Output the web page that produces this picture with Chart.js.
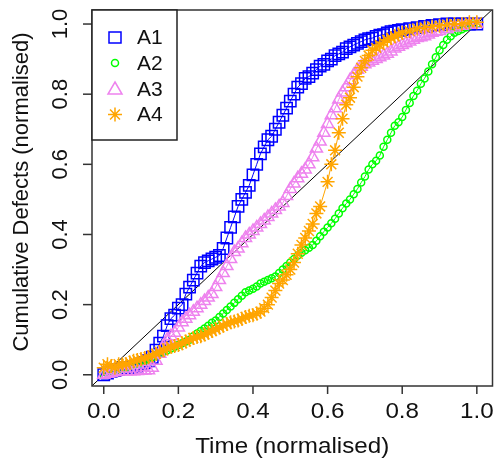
<!DOCTYPE html>
<html>
<head>
<meta charset="utf-8">
<script src="https://cdn.jsdelivr.net/npm/chart.js@4.4.1/dist/chart.umd.min.js"></script>
<style>
html, body { margin: 0; padding: 0; background: #fff; }
canvas { display: block; }
</style>
</head>
<body>
<canvas id="defects" width="502" height="460"></canvas>
<script>
// series names + colours (R style)
var seriesNames = ["A1", "A2", "A3", "A4"];
var seriesColors = ["#0000ff", "#00ff00", "#ee82ee", "#ffa500"];

// A1 - blue squares
var a1X = [0.00,0.01,0.02,0.03,0.04,0.05,0.06,0.07,0.08,0.09,0.10,0.11,0.12,0.13,0.14,0.15,0.16,0.17,0.18,0.19,0.20,0.21,0.22,0.23,0.24,0.25,0.26,0.27,0.28,0.29,0.30,0.31,0.32,0.33,0.34,0.35,0.36,0.37,0.38,0.39,0.40,0.41,0.42,0.43,0.44,0.45,0.46,0.47,0.48,0.49,0.50,0.51,0.52,0.53,0.54,0.55,0.56,0.57,0.58,0.59,0.60,0.61,0.62,0.63,0.64,0.65,0.66,0.67,0.68,0.69,0.70,0.71,0.72,0.73,0.74,0.75,0.76,0.77,0.78,0.79,0.80,0.82,0.84,0.86,0.88,0.90,0.92,0.94,0.96,0.98,1.00];
var a1Y = [0.00,0.005,0.01,0.012,0.015,0.018,0.02,0.02,0.022,0.025,0.03,0.035,0.04,0.05,0.07,0.09,0.11,0.14,0.16,0.17,0.19,0.20,0.23,0.25,0.27,0.29,0.31,0.32,0.325,0.33,0.335,0.34,0.36,0.39,0.42,0.45,0.48,0.50,0.52,0.54,0.57,0.60,0.63,0.65,0.67,0.68,0.70,0.72,0.74,0.76,0.78,0.80,0.82,0.83,0.845,0.85,0.86,0.87,0.88,0.885,0.895,0.90,0.91,0.915,0.92,0.93,0.935,0.94,0.945,0.95,0.955,0.958,0.96,0.965,0.968,0.97,0.975,0.978,0.98,0.982,0.984,0.987,0.99,0.993,0.996,0.998,1.00,1.00,1.00,1.00,1.00];

// A2 - green circles
var a2X = [0.00,0.01,0.02,0.03,0.04,0.05,0.06,0.07,0.08,0.09,0.10,0.11,0.12,0.13,0.14,0.15,0.16,0.17,0.18,0.19,0.20,0.21,0.22,0.23,0.24,0.25,0.26,0.27,0.28,0.29,0.30,0.31,0.32,0.33,0.34,0.35,0.36,0.37,0.38,0.39,0.40,0.41,0.42,0.43,0.44,0.45,0.46,0.47,0.48,0.49,0.50,0.51,0.52,0.53,0.54,0.55,0.56,0.57,0.58,0.59,0.60,0.61,0.62,0.63,0.64,0.65,0.66,0.67,0.68,0.69,0.70,0.71,0.72,0.73,0.74,0.75,0.76,0.77,0.78,0.79,0.80,0.81,0.82,0.83,0.84,0.85,0.86,0.87,0.88,0.89,0.90,0.91,0.92,0.93,0.94,0.95,0.96,0.97,0.98,0.99,1.00];
var a2Y = [0.00,0.005,0.01,0.012,0.015,0.018,0.02,0.025,0.03,0.032,0.035,0.04,0.045,0.05,0.055,0.06,0.065,0.07,0.075,0.08,0.085,0.09,0.095,0.10,0.11,0.118,0.125,0.132,0.14,0.148,0.155,0.165,0.175,0.185,0.195,0.205,0.215,0.225,0.235,0.24,0.245,0.252,0.26,0.265,0.27,0.275,0.28,0.29,0.30,0.31,0.32,0.33,0.34,0.348,0.355,0.362,0.37,0.382,0.395,0.408,0.42,0.432,0.445,0.46,0.475,0.488,0.50,0.515,0.53,0.548,0.565,0.585,0.60,0.61,0.625,0.65,0.67,0.69,0.71,0.72,0.735,0.755,0.775,0.795,0.81,0.83,0.845,0.865,0.885,0.905,0.925,0.94,0.955,0.965,0.975,0.98,0.985,0.99,0.995,0.998,1.00];

// A3 - violet triangles
var a3X = [0.00,0.01,0.02,0.03,0.04,0.05,0.06,0.07,0.08,0.09,0.10,0.11,0.12,0.13,0.14,0.15,0.16,0.17,0.18,0.19,0.20,0.21,0.22,0.23,0.24,0.25,0.26,0.27,0.28,0.29,0.30,0.31,0.32,0.33,0.34,0.35,0.36,0.37,0.38,0.39,0.40,0.41,0.42,0.43,0.44,0.45,0.46,0.47,0.48,0.49,0.50,0.51,0.52,0.53,0.54,0.55,0.56,0.57,0.58,0.59,0.60,0.61,0.62,0.63,0.64,0.65,0.66,0.67,0.68,0.69,0.70,0.71,0.72,0.73,0.74,0.75,0.76,0.77,0.78,0.79,0.80,0.81,0.82,0.83,0.84,0.85,0.86,0.87,0.88,0.89,0.90,0.92,0.94,0.96,0.98,1.00];
var a3Y = [0.00,0.003,0.005,0.007,0.01,0.01,0.01,0.01,0.01,0.011,0.012,0.012,0.013,0.02,0.04,0.06,0.08,0.10,0.11,0.12,0.135,0.15,0.16,0.17,0.18,0.19,0.20,0.21,0.22,0.23,0.25,0.27,0.29,0.31,0.33,0.35,0.36,0.375,0.39,0.40,0.41,0.42,0.43,0.44,0.45,0.46,0.47,0.48,0.49,0.51,0.53,0.545,0.56,0.573,0.585,0.60,0.62,0.645,0.665,0.69,0.715,0.74,0.76,0.785,0.805,0.82,0.84,0.855,0.87,0.878,0.885,0.89,0.895,0.90,0.905,0.91,0.915,0.922,0.93,0.935,0.94,0.945,0.95,0.955,0.96,0.962,0.965,0.97,0.975,0.978,0.98,0.985,0.99,0.995,0.998,1.00];

// A4 - orange stars
var a4X = [0.00,0.01,0.02,0.03,0.04,0.05,0.06,0.07,0.08,0.09,0.10,0.11,0.12,0.13,0.14,0.15,0.16,0.17,0.18,0.19,0.20,0.21,0.22,0.23,0.24,0.25,0.26,0.27,0.28,0.29,0.30,0.31,0.32,0.33,0.34,0.35,0.36,0.37,0.38,0.39,0.40,0.41,0.42,0.43,0.44,0.45,0.46,0.47,0.48,0.49,0.50,0.51,0.52,0.53,0.54,0.55,0.56,0.57,0.58,0.60,0.61,0.62,0.63,0.64,0.65,0.66,0.67,0.68,0.69,0.70,0.71,0.72,0.73,0.74,0.75,0.76,0.77,0.78,0.79,0.80,0.82,0.84,0.86,0.88,0.90,0.92,0.94,0.96,0.98,1.00];
var a4Y = [0.02,0.03,0.025,0.02,0.03,0.03,0.03,0.035,0.04,0.042,0.045,0.048,0.05,0.055,0.06,0.065,0.07,0.075,0.08,0.082,0.085,0.09,0.095,0.10,0.105,0.108,0.11,0.115,0.12,0.125,0.13,0.135,0.14,0.145,0.15,0.152,0.155,0.16,0.165,0.168,0.17,0.175,0.18,0.19,0.20,0.22,0.24,0.26,0.27,0.285,0.30,0.32,0.345,0.37,0.39,0.41,0.43,0.46,0.48,0.55,0.60,0.64,0.69,0.73,0.77,0.79,0.82,0.85,0.875,0.895,0.91,0.925,0.932,0.94,0.948,0.955,0.96,0.965,0.97,0.975,0.98,0.987,0.99,0.993,0.995,0.998,1.00,1.00,1.005,1.005];

// y = x reference line (abline)
var diagX = [-0.05, 1.06];
var diagY = [-0.05, 1.06];

var tickValues = [0, 0.2, 0.4, 0.6, 0.8, 1.0];
var tickLabels = ["0.0", "0.2", "0.4", "0.6", "0.8", "1.0"];

function toPoints(xs, ys) {
    var pts = [];
    for (var i = 0; i < xs.length; i++) pts.push({x: xs[i], y: ys[i]});
    return pts;
}

var clear = "rgba(0,0,0,0)";
var styles = [
    {pointStyle: "rect", radius: 8},
    {pointStyle: "circle", radius: 3.5},
    {pointStyle: "triangle", radius: 7},
    {pointStyle: "star", radius: 7}
];
var allX = [a1X, a2X, a3X, a4X];
var allY = [a1Y, a2Y, a3Y, a4Y];

var datasets = [];
for (var s = 0; s < 4; s++) {
    datasets.push({
        label: seriesNames[s],
        data: toPoints(allX[s], allY[s]),
        showLine: true,
        borderColor: seriesColors[s],
        borderWidth: 1,
        backgroundColor: clear,
        pointStyle: styles[s].pointStyle,
        pointRadius: styles[s].radius,
        pointBorderWidth: 1.5,
        pointBorderColor: seriesColors[s],
        pointBackgroundColor: clear,
        order: 4 - s
    });
}
datasets.push({
    label: "diag",
    data: toPoints(diagX, diagY),
    showLine: true,
    borderColor: "#000",
    borderWidth: 1,
    pointRadius: 0,
    order: 5
});

var textFont = "22px 'Liberation Sans', Arial, sans-serif";
var axisColor = "#333";

// draw the R-like frame, axes, labels and legend
var rFrame = {
    id: "rFrame",
    afterDraw: function(chart) {
        var ctx = chart.ctx;
        var area = chart.chartArea;
        var xs = chart.scales.x, ys = chart.scales.y;
        ctx.save();
        ctx.strokeStyle = axisColor;
        ctx.lineWidth = 1.5;
        ctx.strokeRect(area.left, area.top, area.right - area.left, area.bottom - area.top);

        ctx.fillStyle = "#111";
        ctx.font = textFont;
        // x ticks
        for (var i = 0; i < tickValues.length; i++) {
            var px = xs.getPixelForValue(tickValues[i]);
            ctx.beginPath();
            ctx.moveTo(px, area.bottom);
            ctx.lineTo(px, area.bottom + 8);
            ctx.stroke();
            ctx.save();
            ctx.translate(px, 418);
            ctx.scale(1.1, 1);
            ctx.textAlign = "center";
            ctx.textBaseline = "alphabetic";
            ctx.fillText(tickLabels[i], 0, 0);
            ctx.restore();
        }
        // y ticks
        for (var j = 0; j < tickValues.length; j++) {
            var py = ys.getPixelForValue(tickValues[j]);
            ctx.beginPath();
            ctx.moveTo(area.left, py);
            ctx.lineTo(area.left - 9, py);
            ctx.stroke();
            ctx.save();
            ctx.translate(67, py);
            ctx.rotate(-Math.PI / 2);
            ctx.textAlign = "center";
            ctx.textBaseline = "alphabetic";
            ctx.fillText(tickLabels[j], 0, 0);
            ctx.restore();
        }
        // axis titles
        ctx.save();
        ctx.translate((area.left + area.right) / 2, 453);
        ctx.scale(1.1, 1);
        ctx.textAlign = "center";
        ctx.fillText("Time (normalised)", 0, 0);
        ctx.restore();

        ctx.save();
        ctx.translate(28, (area.top + area.bottom) / 2 - 6);
        ctx.rotate(-Math.PI / 2);
        ctx.textAlign = "center";
        ctx.fillText("Cumulative Defects (normalised)", 0, 0);
        ctx.restore();

        // legend
        var lx = area.left, ly = area.top, lw = 85, lh = 130;
        ctx.fillStyle = "#fff";
        ctx.fillRect(lx, ly, lw, lh);
        ctx.strokeStyle = "#222";
        ctx.lineWidth = 1.5;
        ctx.strokeRect(lx, ly, lw, lh);
        var rowY = [37.5, 63, 89, 114.5];
        for (var k = 0; k < seriesNames.length; k++) {
            var cx = 115, cy = rowY[k];
            ctx.strokeStyle = seriesColors[k];
            ctx.lineWidth = 1.5;
            ctx.beginPath();
            if (k === 0) {
                ctx.rect(cx - 6, cy - 5.5, 12, 11);
            } else if (k === 1) {
                ctx.arc(cx, cy, 3.5, 0, Math.PI * 2);
            } else if (k === 2) {
                ctx.moveTo(cx, cy - 7);
                ctx.lineTo(cx + 7, cy + 5);
                ctx.lineTo(cx - 7, cy + 5);
                ctx.closePath();
            } else {
                for (var a = 0; a < 4; a++) {
                    var ang = a * Math.PI / 4;
                    ctx.moveTo(cx + Math.cos(ang) * 7, cy + Math.sin(ang) * 7);
                    ctx.lineTo(cx - Math.cos(ang) * 7, cy - Math.sin(ang) * 7);
                }
            }
            ctx.stroke();
            ctx.fillStyle = "#111";
            ctx.font = "21px 'Liberation Sans', Arial, sans-serif";
            ctx.textAlign = "left";
            ctx.textBaseline = "middle";
            ctx.fillText(seriesNames[k], 137, cy + 1);
        }
        ctx.restore();
    }
};

var ctx = document.getElementById("defects");
var scatterChart = new Chart(ctx, {
    type: "scatter",
    data: {datasets: datasets},
    options: {
        responsive: false,
        animation: false,
        devicePixelRatio: 1,
        layout: {padding: {left: 92, top: 10, right: 1, bottom: 74}},
        plugins: {legend: {display: false}, tooltip: {enabled: false}},
        scales: {
            x: {type: "linear", min: -0.0315, max: 1.042, display: false},
            y: {type: "linear", min: -0.032, max: 1.04, display: false}
        }
    },
    plugins: [rFrame]
});
</script>
</body>
</html>
